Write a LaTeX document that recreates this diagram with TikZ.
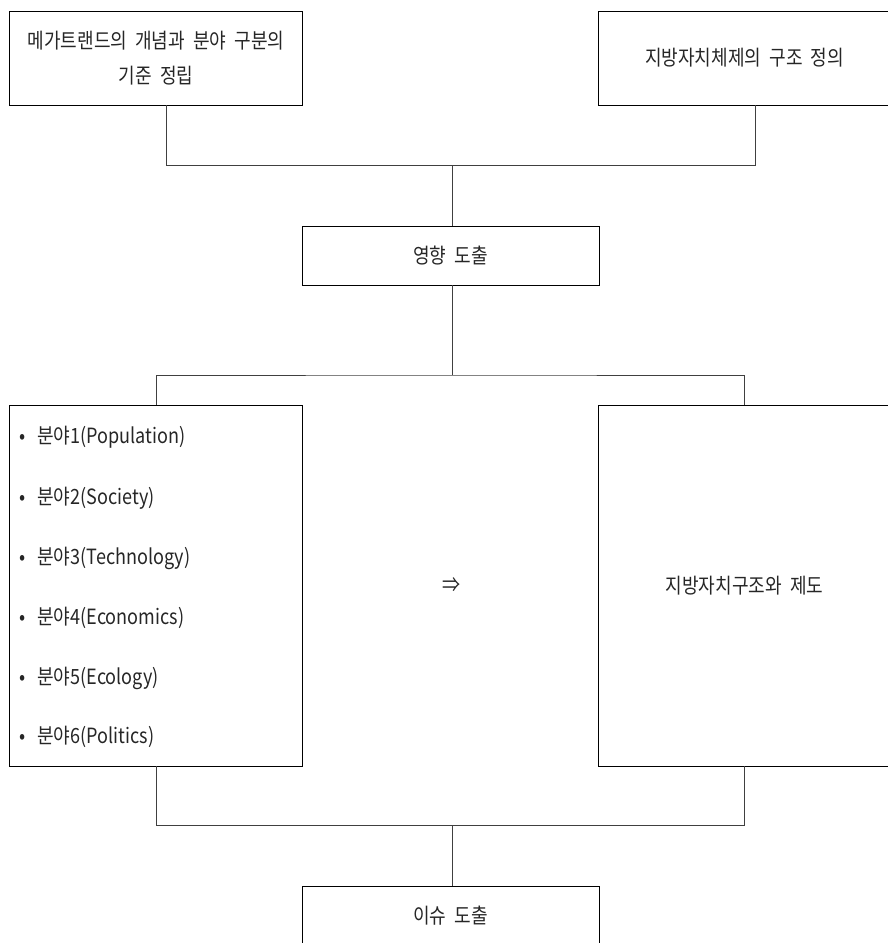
\documentclass[tikz,border=0pt]{standalone}
\usepackage{fontspec}
\setmainfont{Noto Sans CJK KR}[FakeStretch=0.86, WordSpace=2]
\begin{document}
\begin{tikzpicture}[x=1pt,y=-1pt,
  every node/.style={font=\fontsize{21}{35}\selectfont, text=black!85},
  box/.style={draw=black, line width=0.9pt, rectangle, inner sep=0pt, align=center},
  conn/.style={draw=black!75, line width=0.9pt},
  item/.style={anchor=west, inner sep=0pt}]
\useasboundingbox (0,0) rectangle (887,943);
% boxes
\node[box, minimum width=293pt, minimum height=94pt] (tl) at (156,58) {메가트랜드의 개념과 분야 구분의\\기준 정립};
\node[box, minimum width=293pt, minimum height=94pt] (tr) at (744.5,58) {지방자치체제의 구조 정의};
\node[box, minimum width=297pt, minimum height=59pt] (m1) at (450.5,255.5) {영향 도출};
\node[box, minimum width=293pt, minimum height=361pt] (L) at (156,585.5) {};
\node[box, minimum width=293pt, minimum height=361pt] (R) at (744.5,585.5) {지방자치구조와 제도};
\node[box, minimum width=297pt, minimum height=60pt] (B) at (450.5,916) {이슈 도출};
% list items
\foreach \y/\t [count=\i] in {437/{분야1(Population)}, 498/{분야2(Society)}, 558/{분야3(Technology)}, 618/{분야4(Economics)}, 678/{분야5(Ecology)}, 737/{분야6(Politics)}} {
  \node[item] (it\i) at (19,\y) {•\hspace{12pt}\t};
}
\node (arr) at (452,585) {⇒};
% connectors
\coordinate (j1) at (452,165.3);
\coordinate (j2) at (452,375);
\coordinate (j3) at (452,825);
\draw[conn] ([xshift=10pt]tl.south) |- (j1) -| ([xshift=11pt]tr.south);
\draw[conn] (j1) -- (j1 |- m1.north);
\draw[conn] (j2 |- m1.south) -- (j2);
\draw[conn] (L.north) |- (j2) -| (R.north);
\draw[conn] (L.south) |- (j3) -| (R.south);
\draw[conn] (j3) -- (j3 |- B.north);
\end{tikzpicture}
\end{document}
